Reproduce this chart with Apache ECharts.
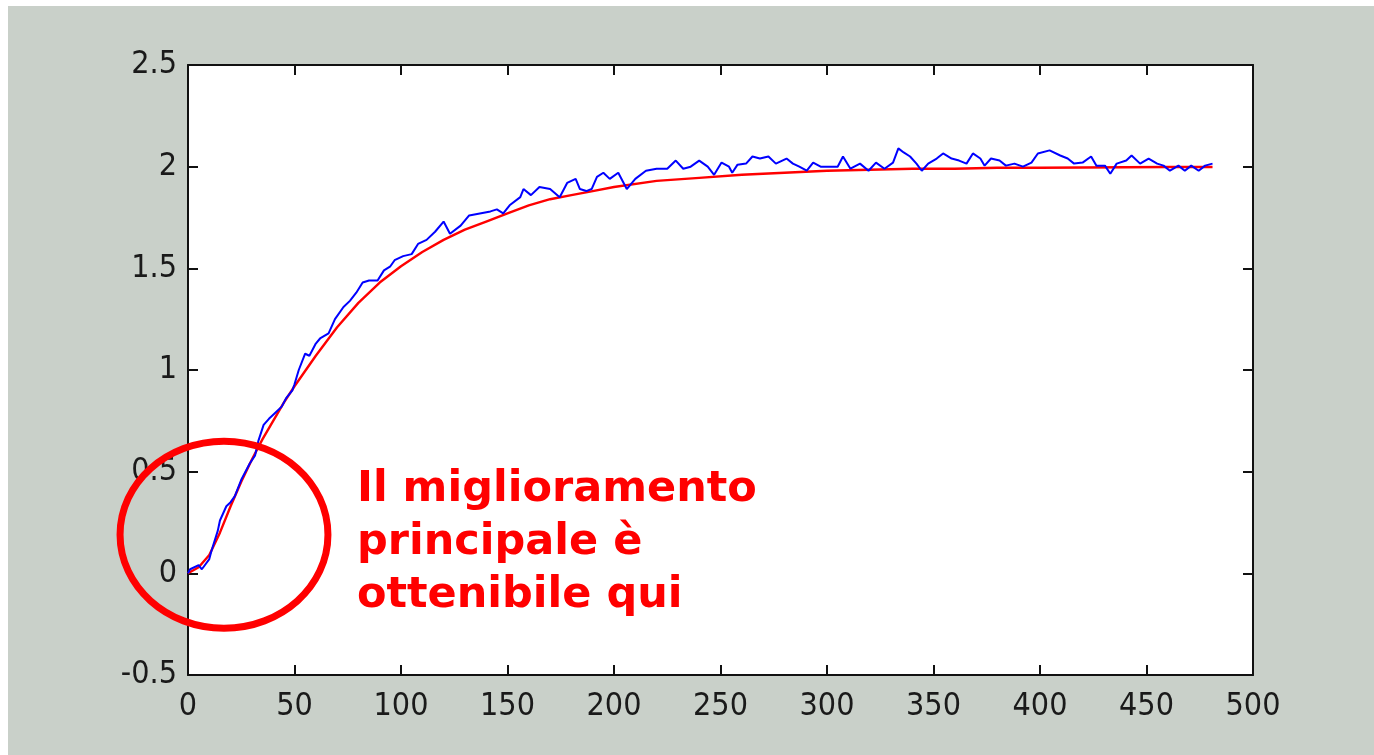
<!DOCTYPE html>
<html>
<head>
<meta charset="utf-8">
<title>Risposta al gradino</title>
<script src="https://cdn.jsdelivr.net/npm/echarts@6/dist/echarts.min.js"></script>
<style>
  html, body { margin: 0; padding: 0; background: #ffffff; }
  #chart { position: absolute; left: 8px; top: 6px; width: 1366px; height: 749px; }
</style>
</head>
<body>
<div id="chart"></div>
<script>
// Measured (noisy) response: time samples and values
const measuredT = [0, 1, 5, 6.5, 10, 11, 14, 15, 18, 20, 22, 25, 29, 31.5, 33, 35.5, 38, 41, 44, 46,
  49, 50, 52, 55, 57, 60, 62, 66, 69, 73, 76, 79, 82, 85, 89, 92, 95, 97, 101, 105,
  108, 112, 116, 120, 123, 128, 132, 137, 142, 145, 148, 151, 156, 157.5, 161, 165, 170, 174.5, 178, 182,
  184, 187, 189.5, 192, 195, 198, 202, 206, 210, 215, 220, 225, 229, 232.5, 236, 240, 244, 247, 250.5, 254,
  255.5, 258, 262, 265, 268.5, 272.5, 276, 281, 284, 287, 290.5, 293.5, 297, 301, 305, 307.5, 311, 315.5, 319.5, 323,
  327, 331, 333.5, 336, 339, 342, 344.5, 347.5, 351.5, 354.5, 358.5, 362, 365.5, 368.5, 372, 374, 377, 381, 384, 388,
  392, 396, 399, 404.5, 409.5, 413, 416, 420, 424, 426.5, 430.5, 433, 436, 440.5, 443, 447, 451, 455, 458, 461,
  465, 468, 471, 474.5, 477.5, 481];
const measuredY = [0.00, 0.02, 0.04, 0.02, 0.07, 0.11, 0.21, 0.26, 0.33, 0.35, 0.38, 0.46, 0.54, 0.58, 0.65, 0.73, 0.76, 0.79, 0.82, 0.86,
  0.90, 0.93, 1.00, 1.08, 1.07, 1.13, 1.155, 1.18, 1.25, 1.31, 1.34, 1.38, 1.43, 1.44, 1.44, 1.49, 1.51, 1.54, 1.56, 1.57,
  1.62, 1.64, 1.68, 1.73, 1.67, 1.71, 1.76, 1.77, 1.78, 1.79, 1.77, 1.81, 1.85, 1.89, 1.86, 1.90, 1.89, 1.85, 1.92, 1.94,
  1.89, 1.88, 1.89, 1.95, 1.97, 1.94, 1.97, 1.89, 1.94, 1.98, 1.99, 1.99, 2.03, 1.99, 2.00, 2.03, 2.00, 1.96, 2.02, 2.00,
  1.97, 2.01, 2.015, 2.05, 2.04, 2.05, 2.015, 2.04, 2.015, 2.00, 1.98, 2.02, 2.00, 2.00, 2.00, 2.05, 1.99, 2.015, 1.98, 2.02,
  1.99, 2.02, 2.09, 2.07, 2.05, 2.015, 1.98, 2.015, 2.04, 2.065, 2.04, 2.03, 2.015, 2.065, 2.04, 2.005, 2.04, 2.03, 2.005, 2.015,
  2.00, 2.02, 2.065, 2.08, 2.055, 2.04, 2.015, 2.02, 2.05, 2.005, 2.005, 1.965, 2.015, 2.03, 2.055, 2.015, 2.04, 2.015, 2.005, 1.98,
  2.005, 1.98, 2.005, 1.98, 2.005, 2.015];

// Model (smooth) response
const modelT = [0, 5, 10, 15, 20, 25, 30, 35, 40, 45, 50, 60, 70, 80, 90, 100, 110, 120, 130, 140,
  150, 160, 170, 180, 190, 200, 220, 240, 260, 280, 300, 320, 340, 360, 380, 400, 420, 440, 460, 481];
const modelY = [0, 0.03, 0.09, 0.20, 0.33, 0.45, 0.56, 0.66, 0.75, 0.84, 0.92, 1.07, 1.21, 1.33, 1.43, 1.51, 1.58, 1.64, 1.69, 1.73,
  1.77, 1.81, 1.84, 1.86, 1.88, 1.90, 1.93, 1.945, 1.96, 1.97, 1.98, 1.985, 1.99, 1.99, 1.995, 1.995, 1.996, 1.997, 1.998, 1.998];

// Annotation text
const noteLines = ['Il miglioramento', 'principale è', 'ottenibile qui'];

const pairs = (xs, ys) => xs.map((x, i) => [x, ys[i]]);

const chart = echarts.init(document.getElementById('chart'), null, { renderer: 'canvas' });

const tickFont = {
  fontFamily: '"Liberation Sans Narrow", "DejaVu Sans Condensed", "Liberation Sans", sans-serif',
  fontSize: 32,
  color: '#1a1a1a'
};
const lineStyleAxis = { color: '#111', width: 2 };

chart.setOption({
  animation: false,
  backgroundColor: '#c9d0c9',
  grid: {
    left: 180, top: 59, width: 1065, height: 610,
    show: true, backgroundColor: '#ffffff', borderWidth: 0
  },
  xAxis: [
    {
      type: 'value', min: 0, max: 500, interval: 50, position: 'bottom',
      axisLine: { show: true, onZero: false, lineStyle: lineStyleAxis },
      axisTick: { show: true, inside: true, length: 10, lineStyle: lineStyleAxis },
      axisLabel: Object.assign({ margin: 16 }, tickFont),
      splitLine: { show: false }
    },
    {
      type: 'value', min: 0, max: 500, interval: 50, position: 'top',
      axisLine: { show: true, onZero: false, lineStyle: lineStyleAxis },
      axisTick: { show: true, inside: true, length: 10, lineStyle: lineStyleAxis },
      axisLabel: { show: false },
      splitLine: { show: false }
    }
  ],
  yAxis: [
    {
      type: 'value', min: -0.5, max: 2.5, interval: 0.5, position: 'left',
      axisLine: { show: true, onZero: false, lineStyle: lineStyleAxis },
      axisTick: { show: true, inside: true, length: 10, lineStyle: lineStyleAxis },
      axisLabel: Object.assign({ margin: 11 }, tickFont),
      splitLine: { show: false }
    },
    {
      type: 'value', min: -0.5, max: 2.5, interval: 0.5, position: 'right',
      axisLine: { show: true, onZero: false, lineStyle: lineStyleAxis },
      axisTick: { show: true, inside: true, length: 10, lineStyle: lineStyleAxis },
      axisLabel: { show: false },
      splitLine: { show: false }
    }
  ],
  series: [
    {
      name: 'modello', type: 'line', data: pairs(modelT, modelY),
      showSymbol: false, symbol: 'none', smooth: false, z: 2,
      lineStyle: { color: '#ff0000', width: 2.4 }
    },
    {
      name: 'misura', type: 'line', data: pairs(measuredT, measuredY),
      showSymbol: false, symbol: 'none', smooth: false, z: 3,
      lineStyle: { color: '#0000ff', width: 2 }
    }
  ]
});

// Red ellipse around the initial transient and the explanatory note, anchored in data space
const ringCenter = chart.convertToPixel({ gridIndex: 0 }, [16.9, 0.19]);
const ringEdge = chart.convertToPixel({ gridIndex: 0 }, [16.9 + 48.8, 0.19 + 0.46]);
const noteAnchor = chart.convertToPixel({ gridIndex: 0 }, [79.3, 0.54]);

chart.setOption({
  graphic: [
    {
      type: 'ellipse', z: 100,
      shape: {
        cx: ringCenter[0], cy: ringCenter[1],
        rx: ringEdge[0] - ringCenter[0], ry: ringCenter[1] - ringEdge[1]
      },
      style: { fill: 'none', stroke: '#ff0000', lineWidth: 7 }
    },
    {
      type: 'text', z: 100,
      x: noteAnchor[0], y: noteAnchor[1],
      style: {
        text: noteLines.join('\n'),
        fill: '#ff0000',
        font: 'bold 43px "DejaVu Sans", Verdana, sans-serif',
        lineHeight: 53,
        verticalAlign: 'top',
        align: 'left'
      }
    }
  ]
});
</script>
</body>
</html>
